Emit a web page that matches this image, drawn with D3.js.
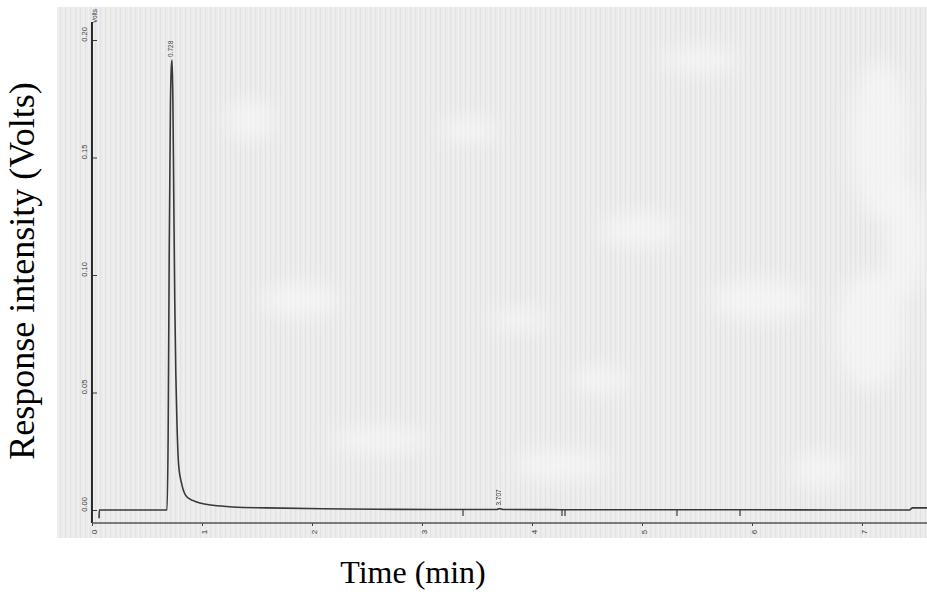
<!DOCTYPE html>
<html>
<head>
<meta charset="utf-8">
<script src="https://cdn.jsdelivr.net/npm/d3@7/dist/d3.min.js"></script>
<style>
  html, body { margin: 0; padding: 0; background: #ffffff; }
  svg { display: block; }
</style>
</head>
<body>
<svg id="chart" width="927" height="599"></svg>
<script>
// Detector trace: time (min) and response (V)
const traceTime = [0.064, 0.066, 0.30, 0.60, 0.682, 0.692, 0.702, 0.713, 0.722, 0.728, 0.735, 0.743, 0.752, 0.762, 0.773, 0.788, 0.816, 0.861, 0.920, 0.980, 1.10, 1.28, 1.59, 2.10, 2.60, 3.10, 3.60, 3.680, 3.707, 3.735, 3.80, 4.50, 5.20, 6.00, 6.80, 7.43, 7.46, 7.60];
const traceVolts = [-0.0035, 0.0, 0.0, 0.0, 0.0, 0.030, 0.110, 0.172, 0.189, 0.1915, 0.176, 0.135, 0.090, 0.058, 0.036, 0.019, 0.0110, 0.0056, 0.0040, 0.0030, 0.0020, 0.0013, 0.0009, 0.0005, 0.0003, 0.0002, 0.0002, 0.0002, 0.0006, 0.0002, 0.0002, 0.0001, 0.0001, 0.0001, 0.0, 0.0, 0.0009, 0.0009];

// Integrated peaks (retention time labels)
const peakTimes = [0.728, 3.707];
const peakLabels = ["0.728", "3.707"];

// Integration event marks on the baseline (min)
const eventTimes = [3.373, 4.273, 4.300, 5.318, 5.891];

// Axis ticks
const xTicks = [0, 1, 2, 3, 4, 5, 6, 7];
const xTickLabels = ["0", "1", "2", "3", "4", "5", "6", "7"];
const yTicks = [0.00, 0.05, 0.10, 0.15, 0.20];
const yTickLabels = ["0.00", "0.05", "0.10", "0.15", "0.20"];

const svg = d3.select("#chart");
const W = 927, H = 599;

const x = d3.scaleLinear().domain([0, 7]).range([92, 862]);
const y = d3.scaleLinear().domain([0, 0.20]).range([510, 40]);

// Paper background with fine vertical grain
const defs = svg.append("defs");
const pat = defs.append("pattern")
  .attr("id", "grain").attr("patternUnits", "userSpaceOnUse")
  .attr("width", 5).attr("height", 40);
pat.append("rect").attr("width", 5).attr("height", 40).attr("fill", "#ebebeb");
pat.append("rect").attr("x", 0).attr("width", 1).attr("height", 40).attr("fill", "#e3e3e3");
pat.append("rect").attr("x", 3).attr("width", 1).attr("height", 40).attr("fill", "#f0f0f0");

const blur = defs.append("filter").attr("id", "soft")
  .attr("x", "-50%").attr("y", "-50%").attr("width", "200%").attr("height", "200%");
blur.append("feGaussianBlur").attr("stdDeviation", 10);

svg.append("rect").attr("width", W).attr("height", H).attr("fill", "#ffffff");
svg.append("rect")
  .attr("x", 57).attr("y", 7).attr("width", W - 57).attr("height", 531)
  .attr("fill", "url(#grain)");

// faded patches of the paper
const clip = defs.append("clipPath").attr("id", "paper");
clip.append("rect").attr("x", 57).attr("y", 7).attr("width", W - 57).attr("height", 531);
const patches = [
  [880, 140, 30, 80], [870, 330, 35, 60], [760, 300, 50, 22], [560, 465, 50, 16],
  [640, 230, 40, 18], [300, 300, 40, 18], [470, 130, 30, 14], [700, 60, 40, 14],
  [380, 440, 50, 14], [820, 470, 30, 18], [250, 120, 24, 22], [600, 380, 30, 14],
  [905, 240, 20, 60], [520, 320, 30, 12]
];
svg.append("g").attr("clip-path", "url(#paper)").attr("filter", "url(#soft)")
  .selectAll("ellipse").data(patches).join("ellipse")
  .attr("cx", d => d[0]).attr("cy", d => d[1])
  .attr("rx", d => d[2]).attr("ry", d => d[3])
  .attr("fill", "#f7f7f7").attr("opacity", 0.7);

const ink = "#3a3a3a";
const tickFont = "Liberation Sans, Arial, sans-serif";

// Y axis (ticks point inward, labels rotated)
const yAxis = d3.axisRight(y).tickValues(yTicks).tickSize(5)
  .tickFormat((d, i) => yTickLabels[i]);
const gy = svg.append("g").attr("transform", "translate(92,0)").call(yAxis);
gy.select(".domain").remove();
gy.selectAll(".tick line").attr("stroke", ink).attr("stroke-width", 1);
gy.selectAll(".tick text")
  .attr("x", null).attr("dy", "0.35em")
  .attr("transform", "translate(-8,-6) rotate(-90)")
  .attr("text-anchor", "middle")
  .attr("fill", ink).attr("font-family", tickFont).attr("font-size", 7.5);
svg.append("line")
  .attr("x1", 92).attr("x2", 92).attr("y1", 22).attr("y2", 523)
  .attr("stroke", "#2a2a2a").attr("stroke-width", 2);
svg.append("text")
  .attr("transform", "translate(95,23) rotate(-90)")
  .attr("dy", "0.35em").attr("text-anchor", "start")
  .attr("fill", ink).attr("font-family", tickFont).attr("font-size", 6.5)
  .text("Volts");

// X axis
const xAxis = d3.axisBottom(x).tickValues(xTicks).tickSize(3)
  .tickFormat((d, i) => xTickLabels[i]);
const gx = svg.append("g").attr("transform", "translate(0,523)").call(xAxis);
gx.select(".domain").remove();
gx.selectAll(".tick line").attr("stroke", ink).attr("stroke-width", 1);
gx.selectAll(".tick text")
  .attr("y", null).attr("dy", "0.35em")
  .attr("transform", "translate(2,9) rotate(-90)")
  .attr("text-anchor", "middle")
  .attr("fill", ink).attr("font-family", tickFont).attr("font-size", 8);
svg.append("line")
  .attr("x1", 92).attr("x2", W).attr("y1", 523).attr("y2", 523)
  .attr("stroke", "#555").attr("stroke-width", 1.3);

// Event marks
svg.append("g").selectAll("line").data(eventTimes).join("line")
  .attr("x1", d => x(d)).attr("x2", d => x(d))
  .attr("y1", y(0)).attr("y2", y(0) + 6)
  .attr("stroke", ink).attr("stroke-width", 1.2);

// Signal trace
const pts = traceTime.map((t, i) => [t, traceVolts[i]]);
const line = d3.line().x(d => x(d[0])).y(d => y(d[1])).curve(d3.curveMonotoneX);
svg.append("path").datum(pts)
  .attr("d", line)
  .attr("fill", "none").attr("stroke", "#383838").attr("stroke-width", 1.6)
  .attr("stroke-linejoin", "round");

// Retention time labels
const peakVal = t => {
  const i = traceTime.indexOf(t);
  return i >= 0 ? traceVolts[i] : 0;
};
svg.append("g").selectAll("text").data(peakTimes).join("text")
  .attr("transform", d => `translate(${x(d) - 1},${y(peakVal(d)) - 3}) rotate(-90)`)
  .attr("dy", "0.35em").attr("text-anchor", "start")
  .attr("fill", ink).attr("font-family", tickFont).attr("font-size", 6.5)
  .text((d, i) => peakLabels[i]);

// Axis titles
svg.append("text")
  .attr("transform", "translate(34,271) rotate(-90)")
  .attr("text-anchor", "middle")
  .attr("font-family", "Liberation Serif, Times New Roman, serif")
  .attr("font-size", 36).attr("fill", "#000")
  .text("Response intensity (Volts)");
svg.append("text")
  .attr("transform", "translate(413,583)")
  .attr("text-anchor", "middle")
  .attr("font-family", "Liberation Serif, Times New Roman, serif")
  .attr("font-size", 32).attr("fill", "#000")
  .text("Time (min)");
</script>
</body>
</html>
